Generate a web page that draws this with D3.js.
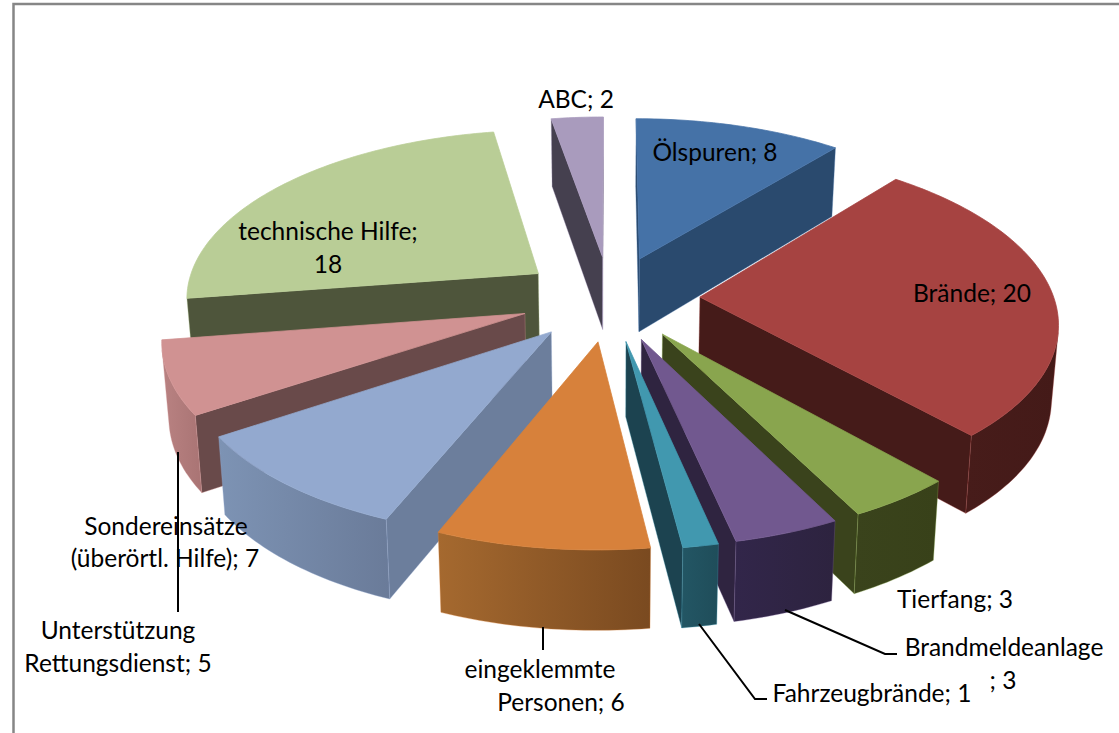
<!DOCTYPE html>
<html>
<head>
<meta charset="utf-8">
<style>
html, body { margin: 0; padding: 0; background: #fff; }
svg { display: block; }
text { font-family: Lato, "Open Sans", sans-serif; font-size: 24.5px; fill: #000; }
</style>
<script src="https://cdn.jsdelivr.net/npm/d3@7"></script>
</head>
<body>
<svg id="chart" width="1119" height="733"></svg>
<script>
// values
var categories = ['Ölspuren', 'Brände', 'Tierfang', 'Brandmeldeanlage', 'Fahrzeugbrände',
  'eingeklemmte Personen', 'Sondereinsätze (überörtl. Hilfe)', 'Unterstützung Rettungsdienst',
  'technische Hilfe', 'ABC'];
var values = [8, 20, 3, 3, 1, 6, 7, 5, 18, 2];

var topColors  = ['#4572a7', '#a64341', '#89a54e', '#71588f', '#4198af', '#d7813b', '#93a9cf', '#d09292', '#b9cd96', '#a99bbd'];
var sideColors = ['#2a4a6e', '#451b19', '#3a431c', '#2f2440', '#1c4350', '#7a4a20', '#6c7e9c', '#694a4a', '#4e553b', '#45404f'];
var arcLeft    = ['#2a4a6e', '#471c1a', '#3a431c', '#32264a', '#235664', '#a5692f', '#7d93b4', '#b98282', '#4e553b', '#45404f'];
var arcRight   = ['#2a4a6e', '#441a18', '#384119', '#2d233f', '#1f4d5a', '#7a4a20', '#6a7b99', '#a97474', '#4e553b', '#45404f'];

// label lines, anchor is the middle of each line
var labelLines = [
  ['Ölspuren; 8'], ['Brände; 20'], ['Tierfang; 3'], ['Brandmeldeanlage', '; 3'], ['Fahrzeugbrände; 1'],
  ['eingeklemmte', 'Personen; 6'], ['Sondereinsätze', '(überörtl. Hilfe); 7'], ['Unterstützung', 'Rettungsdienst; 5'],
  ['technische Hilfe;', '18'], ['ABC; 2']
];
var labelX = [[715], [972], [955], [1004, 1003], [872], [540, 561], [166, 165], [118, 118], [328, 328], [576]];
var labelY = [[161], [302], [608], [656, 689], [702], [678, 711], [535, 567], [639, 672], [240, 273], [108]];

var leaders = [
  [[178, 452], [178, 612]],
  [[543, 627], [543, 650]],
  [[785, 610], [885, 654], [897, 654]],
  [[699, 624], [755, 699], [767, 699]]
];

var cx = 610, cy = 298, explode = 90, tilt = 0.475, persp = 0.131, depth = 74;
var radius = d3.scaleLinear().domain([0, 1]).range([0, 354]);

var svg = d3.select('#chart');
var defs = svg.append('defs');

// frame of the chart area, runs off the picture on the right and at the bottom
svg.append('path')
  .attr('d', 'M13.5,733V4H1119')
  .attr('fill', 'none')
  .attr('stroke', '#868686')
  .attr('stroke-width', 2.5);

var pie = d3.pie().sort(null).value(function(d) { return d; });
var arcs = pie(values);

// x/y in the pie plane (y towards the viewer), z 0 = top face, 1 = bottom face
var project = function(x, y, z) {
  var yn = y / radius(1);
  var w = 1 - persp * yn;
  return [
    cx + x / (w * (1 + 0.016 * z)),
    cy + tilt * y / w + depth * z * (1 + 0.07 * yn)
  ];
};

var line = d3.line();

var area = function(p) {
  var s = 0;
  p.forEach(function(a, i) {
    var b = p[(i + 1) % p.length];
    s += a[0] * b[1] - b[0] * a[1];
  });
  return s / 2;
};

var slices = arcs.map(function(a, i) {
  var mid = (a.startAngle + a.endAngle) / 2;
  var ox = explode * Math.sin(mid), oy = -explode * Math.cos(mid);
  var pt = function(ang, r, z) {
    return project(ox + radius(r) * Math.sin(ang), oy - radius(r) * Math.cos(ang), z);
  };
  return { i: i, start: a.startAngle, end: a.endAngle, order: -Math.cos(mid), pt: pt };
}).sort(function(a, b) { return a.order - b.order; });

var groups = svg.selectAll('g.slice')
  .data(slices)
  .enter().append('g')
  .attr('class', 'slice');

groups.each(function(s) {
  var g = d3.select(this);
  var i = s.i;
  var n = Math.max(4, Math.ceil((s.end - s.start) / 0.02));
  var angles = d3.range(n + 1).map(function(k) { return s.start + (s.end - s.start) * k / n; });

  // side walls, only the ones looking at the viewer
  [[s.pt(0, 0, 0), s.pt(s.start, 1, 0), s.pt(s.start, 1, 1), s.pt(0, 0, 1)],
   [s.pt(s.end, 1, 0), s.pt(0, 0, 0), s.pt(0, 0, 1), s.pt(s.end, 1, 1)]].forEach(function(q) {
    if (area(q) < 0) {
      g.append('path')
        .attr('d', line(q) + 'Z')
        .attr('fill', sideColors[i])
        .attr('stroke', topColors[i])
        .attr('stroke-opacity', 0.45)
        .attr('stroke-width', 0.75);
    }
  });

  // outer wall
  var visible = [];
  d3.pairs(angles).forEach(function(p) {
    var q = [s.pt(p[0], 1, 0), s.pt(p[1], 1, 0), s.pt(p[1], 1, 1), s.pt(p[0], 1, 1)];
    if (area(q) < 0) visible.push(p);
  });
  if (visible.length) {
    var run = [visible[0][0]].concat(visible.map(function(p) { return p[1]; }));
    var topEdge = run.map(function(a) { return s.pt(a, 1, 0); });
    var botEdge = run.map(function(a) { return s.pt(a, 1, 1); }).reverse();
    var xs = d3.extent(topEdge.concat(botEdge), function(p) { return p[0]; });
    var grad = defs.append('linearGradient')
      .attr('id', 'wall' + i)
      .attr('gradientUnits', 'userSpaceOnUse')
      .attr('x1', xs[0]).attr('x2', xs[1]).attr('y1', 0).attr('y2', 0);
    grad.append('stop').attr('offset', 0).attr('stop-color', arcLeft[i]);
    grad.append('stop').attr('offset', 1).attr('stop-color', arcRight[i]);
    g.append('path')
      .attr('d', line(topEdge.concat(botEdge)) + 'Z')
      .attr('fill', 'url(#wall' + i + ')')
      .attr('stroke', topColors[i])
      .attr('stroke-opacity', 0.45)
      .attr('stroke-width', 0.75);
  }

  // top face
  var face = [s.pt(0, 0, 0)].concat(angles.map(function(a) { return s.pt(a, 1, 0); }));
  g.append('path')
    .attr('d', line(face) + 'Z')
    .attr('fill', topColors[i])
    .attr('stroke', topColors[i])
    .attr('stroke-width', 0.75);
});

svg.selectAll('path.leader')
  .data(leaders)
  .enter().append('path')
  .attr('class', 'leader')
  .attr('d', function(d) { return line(d); })
  .attr('fill', 'none')
  .attr('stroke', '#000')
  .attr('stroke-width', 2);

categories.forEach(function(c, i) {
  labelLines[i].forEach(function(t, k) {
    svg.append('text')
      .attr('x', labelX[i][k])
      .attr('y', labelY[i][k])
      .attr('text-anchor', 'middle')
      .text(t);
  });
});
</script>
</body>
</html>
